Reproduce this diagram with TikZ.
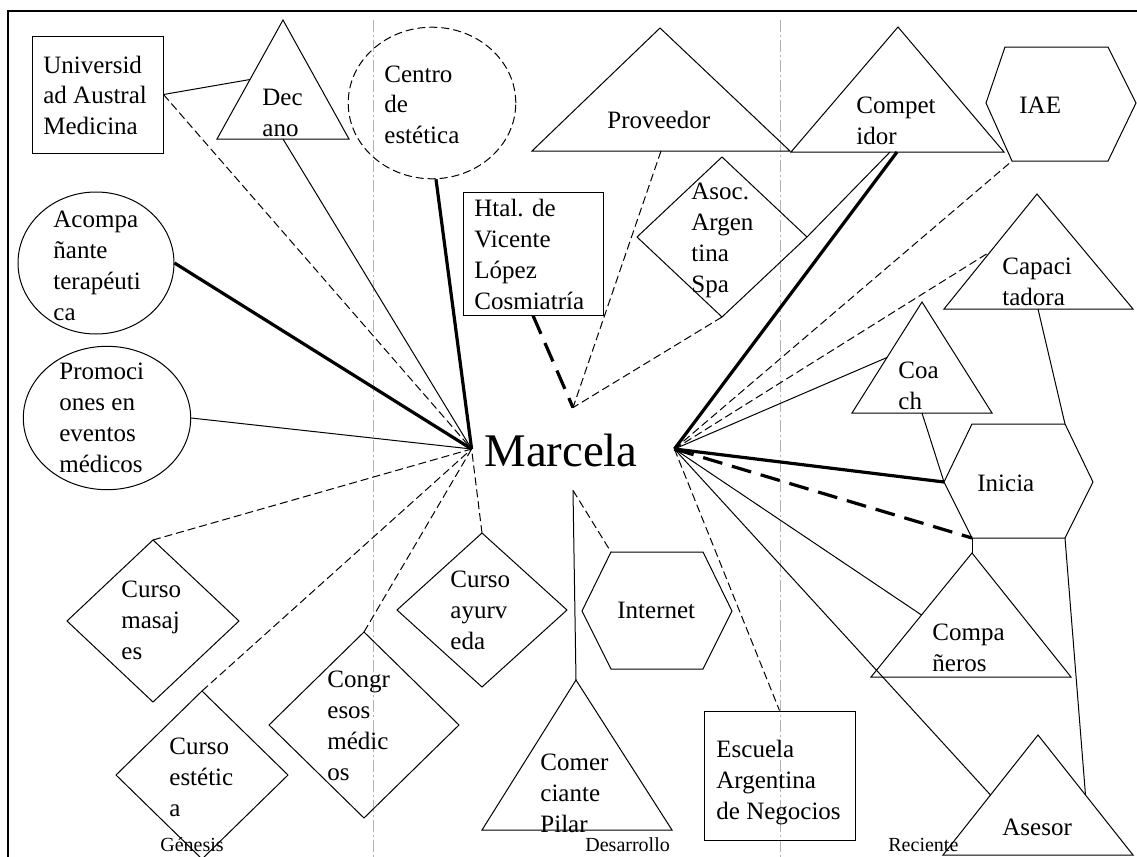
\documentclass[tikz,border=0pt]{standalone}
\usepackage{fontspec}
\setmainfont{Liberation Serif}
\usetikzlibrary{shapes.geometric,calc}
\tikzset{
 shp/.style={draw, line width=0.5pt},
 lbl/.style={anchor=base west, inner sep=0pt, align=left, font=\fontsize{12.5}{15.4}\selectfont},
 era/.style={anchor=base west, inner sep=0pt, font=\fontsize{10}{12}\selectfont},
 ln/.style={line width=0.5pt},
 lnd/.style={line width=0.5pt, dash pattern=on 4pt off 2pt},
 lnk/.style={line width=1.6pt},
 lnkd/.style={line width=1.6pt, dash pattern=on 10pt off 5pt},
 sep/.style={line width=0.5pt, draw=black!30, dash pattern=on 6pt off 1.5pt on 1pt off 1.5pt},
 oval/.style={shp, ellipse, inner sep=0pt},
 box/.style={shp, rectangle, inner sep=0pt},
}
\begin{document}
\begin{tikzpicture}[x=0.5pt,y=-0.5pt]
\useasboundingbox (0,0) rectangle (1137,857);
\clip (0,0) rectangle (1137,857);
\fill[white] (0,0) rectangle (1137,857);
% frame
\coordinate (fr1) at (8,870); \coordinate (fr2) at (8,11); \coordinate (fr3) at (1150,11);
\draw[line width=1.4pt] (fr1) -- (fr2) -- (fr3);
% era separators
\coordinate (s1t) at (373,20); \coordinate (s1b) at (373,857);
\coordinate (s2t) at (780,20); \coordinate (s2b) at (780,857);
\draw[sep] (s1t) -- (s1b);
\draw[sep] (s2t) -- (s2b);

% ---------- shapes ----------
% (text nodes: base west = baseline of the LAST line)
% Universidad (rect)
\node[box, minimum width=65.5pt, minimum height=58.5pt] (uni) at (97.5,94.5) {};
\node[lbl] (unit) at (43,134.6) {Universid\\ad Austral\\Medicina};
% Decano (triangle)
\coordinate (dec-t) at (283,20); \coordinate (dec-l) at (217,139); \coordinate (dec-r) at (349,139);
\draw[shp] (dec-t) -- (dec-l) -- (dec-r) -- cycle;
\coordinate (dec-s) at ($(dec-l)!.5!(dec-r)$);
\coordinate (dec-w) at ($(dec-t)!.5!(dec-l)$);
\node[lbl] (dect) at (262,136) {Dec\\ano};
% Centro de estetica (dashed ellipse)
\node[oval, dash pattern=on 4pt off 2pt, minimum width=83.8pt, minimum height=75.8pt] (cen) at (432,103) {};
\node[lbl] (cent) at (384,143.6) {Centro\\de\\estética};
% Proveedor (triangle)
\coordinate (prov-t) at (660,28); \coordinate (prov-l) at (532,151); \coordinate (prov-r) at (790,151);
\draw[shp] (prov-t) -- (prov-l) -- (prov-r) -- cycle;
\coordinate (prov-s) at ($(prov-l)!.5!(prov-r)$);
\node[lbl] (provt) at (607,128) {Proveedor};
% Htal (rect)
\node[box, minimum width=70pt, minimum height=61.5pt] (htal) at (533,253.5) {};
\node[lbl] (htalt) at (474,309) {Htal. de\\Vicente\\López\\Cosmiatría};
% Asoc (diamond)
\coordinate (asoc-t) at (722,157); \coordinate (asoc-l) at (637,237);
\coordinate (asoc-r) at (807,237); \coordinate (asoc-b) at (722,317);
\draw[shp] (asoc-t) -- (asoc-r) -- (asoc-b) -- (asoc-l) -- cycle;
\node[lbl] (asoct) at (691,292) {Asoc.\\Argen\\tina\\Spa};
% Competidor (triangle)
\coordinate (comp-t) at (898,27); \coordinate (comp-l) at (791,152); \coordinate (comp-r) at (1004,152);
\draw[shp] (comp-t) -- (comp-l) -- (comp-r) -- cycle;
\coordinate (comp-s) at (897,152); \coordinate (comp-sx) at (890,152);
\node[lbl] (compt) at (856,144) {Compet\\idor};
% IAE (hexagon)
\coordinate (iae-l) at (986,103); \coordinate (iae-tl) at (1005,47); \coordinate (iae-tr) at (1108,47);
\coordinate (iae-r) at (1136,103); \coordinate (iae-br) at (1108,161); \coordinate (iae-bl) at (1012,161);
\draw[shp] (iae-l) -- (iae-tl) -- (iae-tr) -- (iae-r) -- (iae-br) -- (iae-bl) -- cycle;
\node[lbl] (iaet) at (1019,113) {IAE};
% Capacitadora (triangle)
\coordinate (cap-t) at (1037,194); \coordinate (cap-l) at (944,309); \coordinate (cap-r) at (1133,309);
\draw[shp] (cap-t) -- (cap-l) -- (cap-r) -- cycle;
\coordinate (cap-s) at (1038,309);
\coordinate (cap-w) at ($(cap-t)!.5!(cap-l)$);
\node[lbl] (capt) at (1002,305) {Capaci\\tadora};
% Coach (triangle)
\coordinate (coach-t) at (922,302); \coordinate (coach-l) at (852,413); \coordinate (coach-r) at (992,413);
\draw[shp] (coach-t) -- (coach-l) -- (coach-r) -- cycle;
\coordinate (coach-s) at ($(coach-l)!.5!(coach-r)$);
\coordinate (coach-w) at ($(coach-t)!.5!(coach-l)$);
\node[lbl] (coacht) at (898,409) {Coa\\ch};
% Inicia (hexagon)
\coordinate (inic-l) at (944,482); \coordinate (inic-tl) at (972,424); \coordinate (inic-tr) at (1065,424);
\coordinate (inic-r) at (1093,482); \coordinate (inic-br) at (1065,538); \coordinate (inic-bl) at (972,538);
\draw[shp] (inic-l) -- (inic-tl) -- (inic-tr) -- (inic-r) -- (inic-br) -- (inic-bl) -- cycle;
\node[lbl] (inict) at (977,491) {Inicia};
% Acompanante (ellipse)
\node[oval, minimum width=78pt, minimum height=71pt] (acomp) at (96,263) {};
\node[lbl] (acompt) at (53,320) {Acompa\\ñante\\terapéuti\\ca};
% Promociones (ellipse)
\node[oval, minimum width=83.7pt, minimum height=71.7pt] (promo) at (107,418) {};
\node[lbl] (promot) at (59,472) {Promoci\\ones en\\eventos\\médicos};
% Curso masajes (diamond)
\coordinate (masa-t) at (153,540); \coordinate (masa-l) at (67,621);
\coordinate (masa-r) at (239,621); \coordinate (masa-b) at (153,702);
\draw[shp] (masa-t) -- (masa-r) -- (masa-b) -- (masa-l) -- cycle;
\node[lbl] (masat) at (121,659) {Curso\\masaj\\es};
% Curso estetica (diamond)
\coordinate (este-t) at (202,691); \coordinate (este-l) at (116,775);
\coordinate (este-r) at (288,775); \coordinate (este-b) at (202,859);
\draw[shp] (este-t) -- (este-r) -- (este-b) -- (este-l) -- cycle;
\node[lbl] (estet) at (169,816) {Curso\\estétic\\a};
% Congresos (diamond)
\coordinate (cong-t) at (364,632); \coordinate (cong-l) at (269,725);
\coordinate (cong-r) at (459,725); \coordinate (cong-b) at (364,818);
\draw[shp] (cong-t) -- (cong-r) -- (cong-b) -- (cong-l) -- cycle;
\node[lbl] (congt) at (327,780) {Congr\\esos\\médic\\os};
% Curso ayurveda (diamond)
\coordinate (ayur-t) at (482,533); \coordinate (ayur-l) at (397,610);
\coordinate (ayur-r) at (567,610); \coordinate (ayur-b) at (482,687);
\draw[shp] (ayur-t) -- (ayur-r) -- (ayur-b) -- (ayur-l) -- cycle;
\node[lbl] (ayurt) at (450,649) {Curso\\ayurv\\eda};
% Internet (hexagon)
\coordinate (inter-l) at (582,611); \coordinate (inter-tl) at (611,552); \coordinate (inter-tr) at (703,552);
\coordinate (inter-r) at (732,611); \coordinate (inter-br) at (703,669); \coordinate (inter-bl) at (611,669);
\draw[shp] (inter-l) -- (inter-tl) -- (inter-tr) -- (inter-r) -- (inter-br) -- (inter-bl) -- cycle;
\node[lbl] (intert) at (617,618) {Internet};
% Comerciante (triangle)
\coordinate (comer-t) at (576,680); \coordinate (comer-l) at (482,830); \coordinate (comer-r) at (672,830);
\draw[shp] (comer-t) -- (comer-l) -- (comer-r) -- cycle;
\node[lbl] (comert) at (540,832) {Comer\\ciante\\Pilar};
% Escuela (rect)
\node[box, minimum width=75.5pt, minimum height=64.5pt] (escu) at (779.5,775.5) {};
\node[lbl] (escut) at (716,819) {Escuela\\Argentina\\de Negocios};
% Companeros (triangle)
\coordinate (compa-t) at (972,553); \coordinate (compa-l) at (871,677); \coordinate (compa-r) at (1071,677);
\draw[shp] (compa-t) -- (compa-l) -- (compa-r) -- cycle;
\coordinate (compa-w) at ($(compa-t)!.5!(compa-l)$);
\node[lbl] (compat) at (932,671) {Compa\\ñeros};
% Asesor (triangle)
\coordinate (ases-t) at (1038,735); \coordinate (ases-l) at (943,855); \coordinate (ases-r) at (1133,855);
\draw[shp] (ases-t) -- (ases-l) -- (ases-r) -- cycle;
\coordinate (ases-w) at ($(ases-t)!.5!(ases-l)$);
\coordinate (ases-e) at ($(ases-t)!.5!(ases-r)$);
\node[lbl] (asest) at (1002,835) {Asesor};
% Marcela
\node[inner sep=0pt, minimum width=101pt, minimum height=41pt] (m) at (573,449) {};
\node[anchor=base west, inner sep=0pt, font=\fontsize{23.4}{28}\selectfont] (mt) at (484,466) {Marcela};
% era labels
\node[era] (gen) at (160,851) {Génesis};
\node[era] (des) at (585,851) {Desarrollo};
\node[era] (rec) at (888,851) {Reciente};

% ---------- connectors ----------
\draw[lnd] (uni.east) -- (m.west);
\draw[ln] (uni.east) -- (dec-w);
\draw[ln] (dec-s) -- (m.west);
\draw[lnk] (cen.-87) -- (m.west);
\draw[lnk] (acomp.east) -- (m.west);
\draw[ln] (promo.east) -- (m.west);
\draw[lnd] (masa-t) -- (m.west);
\draw[lnd] (este-t) -- (m.west);
\draw[lnd] (cong-t) -- (m.west);
\draw[lnd] (ayur-t) -- (m.west);
\draw[lnkd] (htal.south) -- (m.north);
\draw[lnd] (prov-s) -- (m.north);
\draw[lnd] (asoc-b) -- (m.north);
\draw[ln] (asoc-r) -- (comp-sx);
\draw[lnk] (m.east) -- (comp-s);
\draw[lnd] (m.east) -- (iae-bl);
\draw[lnd] (m.east) -- (cap-w);
\draw[ln] (m.east) -- (coach-w);
\draw[lnk] (m.east) -- (inic-l);
\draw[lnkd] (m.east) -- (inic-bl);
\draw[ln] (m.east) -- (compa-w);
\draw[ln] (m.east) -- (ases-w);
\draw[lnd] (m.east) -- (escu.north);
\draw[ln] (cap-s) -- (inic-tr);
\draw[ln] (coach-s) -- (inic-l);
\draw[ln] (inic-bl) -- (compa-t);
\draw[ln] (inic-br) -- (ases-e);
\draw[lnd] (m.south) -- (inter-tl);
\draw[ln] (m.south) -- (comer-t);
\end{tikzpicture}
\end{document}
